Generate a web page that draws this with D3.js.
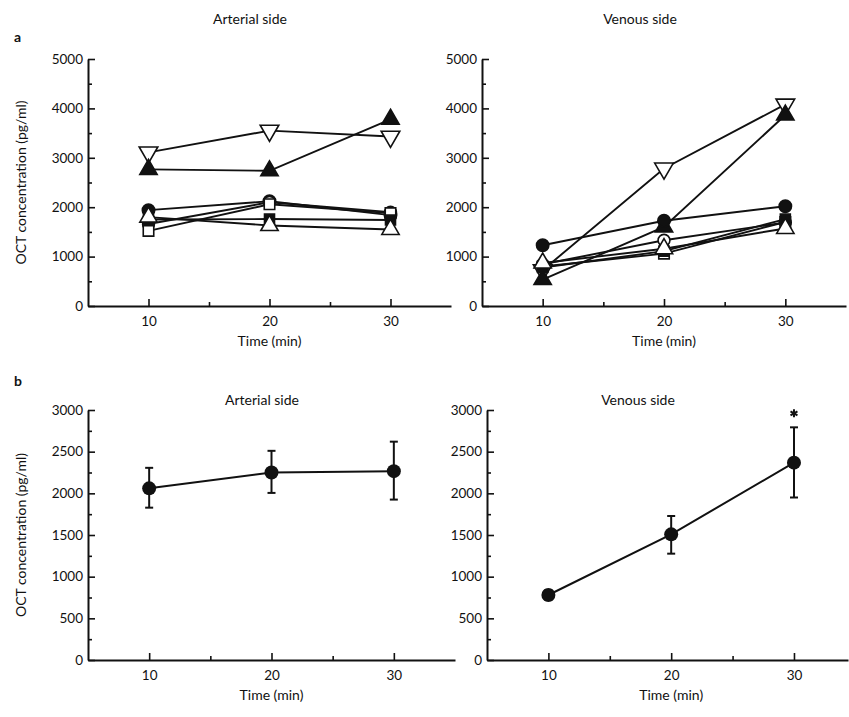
<!DOCTYPE html>
<html><head><meta charset="utf-8">
<script src="https://cdn.jsdelivr.net/npm/d3@7"></script>
<style>body{margin:0;background:#fff}svg{display:block}text{font-family:Lato,"Open Sans",sans-serif;fill:#111}</style>
</head><body><svg id="c" width="849" height="717"></svg>
<script>
// ---- data ----
const times = [10, 20, 30];
const topTicks = [0, 1000, 2000, 3000, 4000, 5000];
const bottomTicks = [0, 500, 1000, 1500, 2000, 2500, 3000];
const xTicks = [10, 20, 30];
const panelTitles = ["Arterial side", "Venous side"];
// individual subjects (panel a)
const seriesNames = ["invTriOpen", "triFilled", "circleFilled", "circleOpen", "squareOpen", "squareFilled", "triOpen"];
const arterial_invTriOpen = [3110, 3550, 3430];
const arterial_triFilled = [2765, 2737, 3780];
const arterial_circleFilled = [1940, 2120, 1840];
const arterial_circleOpen = [1660, 2100, 1900];
const arterial_squareOpen = [1520, 2060, 1880];
const arterial_squareFilled = [1750, 1760, 1740];
const arterial_triOpen = [1800, 1630, 1550];
const venous_invTriOpen = [725, 2785, 4080];
const venous_triFilled = [535, 1600, 3865];
const venous_circleFilled = [1230, 1725, 2020];
const venous_circleOpen = [845, 1330, 1690];
const venous_squareOpen = [800, 1060, 1700];
const venous_squareFilled = [780, 1110, 1760];
const venous_triOpen = [870, 1160, 1570];
// means +/- SD (panel b)
const arterialMean = [2060, 2250, 2266];
const arterialUpper = [2306, 2510, 2620];
const arterialLower = [1828, 2005, 1925];
const venousMean = [780, 1508, 2368];
const venousUpper = [840, 1728, 2792];
const venousLower = [720, 1276, 1950];
const venousSignificant = [false, false, true];

// ---- drawing ----
const svg = d3.select("#c");
const arterialSeries = [arterial_invTriOpen, arterial_triFilled, arterial_circleFilled, arterial_circleOpen, arterial_squareOpen, arterial_squareFilled, arterial_triOpen];
const venousSeries = [venous_invTriOpen, venous_triFilled, venous_circleFilled, venous_circleOpen, venous_squareOpen, venous_squareFilled, venous_triOpen];

const styles = {
  invTriOpen: {type: d3.symbolTriangle, size: 150, fill: "#fff", rot: 180},
  triFilled: {type: d3.symbolTriangle, size: 130, fill: "#111", rot: 0},
  circleFilled: {type: d3.symbolCircle, size: 120, fill: "#111", rot: 0},
  circleOpen: {type: d3.symbolCircle, size: 110, fill: "#fff", rot: 0},
  squareOpen: {type: d3.symbolSquare, size: 110, fill: "#fff", rot: 0},
  squareFilled: {type: d3.symbolSquare, size: 100, fill: "#111", rot: 0},
  triOpen: {type: d3.symbolTriangle, size: 130, fill: "#fff", rot: 0}
};

function panel(opts) {
  const x = d3.scaleLinear().domain([5, opts.xmax]).range([opts.x0, opts.x1]);
  const y = d3.scaleLinear().domain([0, opts.ymax]).range([opts.y0, opts.y1]);
  const g = svg.append("g");
  const yMinor = d3.range(0, opts.ymax + 1, opts.minorStep).filter(v => !opts.yTicks.includes(v));
  g.append("g").attr("transform", `translate(${opts.x0},0)`)
    .call(d3.axisLeft(y).tickValues(yMinor).tickSize(-4).tickFormat(""))
    .call(a => a.select(".domain").remove());
  g.append("g").attr("transform", `translate(0,${opts.y0})`)
    .call(d3.axisBottom(x).tickValues([15, 25]).tickSize(-4).tickFormat(""))
    .call(a => a.select(".domain").remove());
  g.append("g").attr("transform", `translate(${opts.x0},0)`)
    .call(d3.axisLeft(y).tickValues(opts.yTicks).tickSize(-7).tickSizeOuter(0).tickPadding(5).tickFormat(d3.format("d")));
  g.append("g").attr("transform", `translate(0,${opts.y0})`)
    .call(d3.axisBottom(x).tickValues(xTicks).tickSize(-7).tickSizeOuter(0).tickPadding(10));
  g.selectAll(".domain").attr("stroke", "#111").attr("stroke-width", 2);
  g.selectAll(".tick line").attr("stroke", "#111").attr("stroke-width", 1.6);
  g.selectAll(".tick text").attr("font-size", 13.5).attr("font-family", "Lato, sans-serif").attr("fill", "#111");
  svg.append("text").attr("x", opts.titleX).attr("y", opts.titleY).attr("text-anchor", "middle").attr("font-size", 14).text(opts.title);
  svg.append("text").attr("x", x(20)).attr("y", opts.y0 + 40).attr("text-anchor", "middle").attr("font-size", 14).text("Time (min)");
  if (opts.ylabel) {
    svg.append("text").attr("transform", `translate(26,${(opts.y0 + opts.y1) / 2}) rotate(-90)`).attr("text-anchor", "middle").attr("font-size", 14).text("OCT concentration (pg/ml)");
  }
  return {x, y, g};
}

function individual(p, list) {
  const line = d3.line().x((d, i) => p.x(times[i])).y(d => p.y(d));
  list.forEach(vals => {
    p.g.append("path").attr("d", line(vals)).attr("fill", "none").attr("stroke", "#111").attr("stroke-width", 1.9);
  });
  list.forEach((vals, k) => {
    const st = styles[seriesNames[k]];
    const sym = d3.symbol().type(st.type).size(st.size);
    vals.forEach((v, i) => {
      p.g.append("path").attr("d", sym()).attr("transform", `translate(${p.x(times[i])},${p.y(v)}) rotate(${st.rot})`)
        .attr("fill", st.fill).attr("stroke", "#111").attr("stroke-width", 1.6);
    });
  });
}

function meanPlot(p, mean, upper, lower, sig) {
  const line = d3.line().x((d, i) => p.x(times[i])).y(d => p.y(d));
  p.g.append("path").attr("d", line(mean)).attr("fill", "none").attr("stroke", "#111").attr("stroke-width", 2);
  times.forEach((t, i) => {
    const cx = p.x(t);
    p.g.append("line").attr("x1", cx).attr("x2", cx).attr("y1", p.y(upper[i])).attr("y2", p.y(lower[i])).attr("stroke", "#111").attr("stroke-width", 2);
    [upper[i], lower[i]].forEach(v => p.g.append("line").attr("x1", cx - 4).attr("x2", cx + 4).attr("y1", p.y(v)).attr("y2", p.y(v)).attr("stroke", "#111").attr("stroke-width", 2));
    p.g.append("circle").attr("cx", cx).attr("cy", p.y(mean[i])).attr("r", 7).attr("fill", "#111");
    if (sig && sig[i]) {
      p.g.append("path").attr("d", d3.symbol().type(d3.symbolAsterisk).size(45)()).attr("transform", `translate(${cx},${p.y(upper[i]) - 14})`).attr("stroke", "#111").attr("stroke-width", 2);
    }
  });
}

const pA1 = panel({x0: 88, x1: 451, y0: 306, y1: 59, xmax: 35, ymax: 5000, yTicks: topTicks, minorStep: 500, title: panelTitles[0], titleX: 250, titleY: 24, ylabel: true});
const pA2 = panel({x0: 482, x1: 846, y0: 306, y1: 59, xmax: 35, ymax: 5000, yTicks: topTicks, minorStep: 500, title: panelTitles[1], titleX: 640, titleY: 24, ylabel: false});
const pB1 = panel({x0: 88, x1: 455, y0: 660, y1: 410, xmax: 35, ymax: 3000, yTicks: bottomTicks, minorStep: 250, title: panelTitles[0], titleX: 262, titleY: 405, ylabel: true});
const pB2 = panel({x0: 487, x1: 848, y0: 660, y1: 410, xmax: 34.4, ymax: 3000, yTicks: bottomTicks, minorStep: 250, title: panelTitles[1], titleX: 638, titleY: 405, ylabel: false});
individual(pA1, arterialSeries);
individual(pA2, venousSeries);
meanPlot(pB1, arterialMean, arterialUpper, arterialLower, null);
meanPlot(pB2, venousMean, venousUpper, venousLower, venousSignificant);
svg.append("text").attr("x", 14).attr("y", 42).attr("font-size", 14).attr("font-weight", "bold").text("a");
svg.append("text").attr("x", 14).attr("y", 386).attr("font-size", 14).attr("font-weight", "bold").text("b");
</script></body></html>
